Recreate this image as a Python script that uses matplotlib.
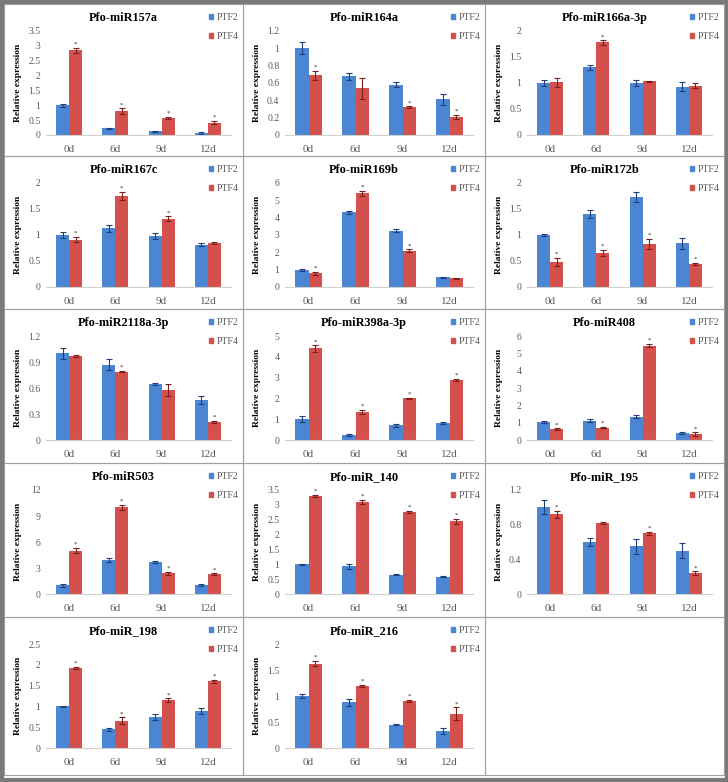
import matplotlib
matplotlib.use("Agg")
import matplotlib.pyplot as plt
import numpy as np
from matplotlib.patches import Rectangle, Patch

plt.rcParams['font.family'] = ['Liberation Serif', 'DejaVu Serif']

days = ['0d', '6d', '9d', '12d']

titles = ['Pfo-miR157a', 'Pfo-miR164a', 'Pfo-miR166a-3p',
          'Pfo-miR167c', 'Pfo-miR169b', 'Pfo-miR172b',
          'Pfo-miR2118a-3p', 'Pfo-miR398a-3p', 'Pfo-miR408',
          'Pfo-miR503', 'Pfo-miR_140', 'Pfo-miR_195',
          'Pfo-miR_198', 'Pfo-miR_216']

ptf2 = [[1.0, 0.22, 0.13, 0.07], [1.0, 0.68, 0.58, 0.41], [1.0, 1.30, 1.00, 0.93],
        [1.0, 1.13, 0.98, 0.81], [1.0, 4.30, 3.25, 0.55], [1.0, 1.40, 1.73, 0.84],
        [1.0, 0.87, 0.65, 0.46], [1.0, 0.22, 0.70, 0.82], [1.05, 1.12, 1.35, 0.40],
        [1.0, 3.90, 3.70, 1.00], [1.0, 0.93, 0.65, 0.58], [1.0, 0.60, 0.55, 0.50],
        [1.0, 0.45, 0.75, 0.88], [1.0, 0.88, 0.45, 0.32]]
ptf4 = [[2.85, 0.80, 0.57, 0.42], [0.69, 0.54, 0.32, 0.21], [1.01, 1.78, 1.03, 0.95],
        [0.91, 1.75, 1.31, 0.85], [0.78, 5.40, 2.10, 0.50], [0.48, 0.66, 0.83, 0.45],
        [0.97, 0.79, 0.58, 0.21], [4.40, 1.35, 2.00, 2.90], [0.62, 0.72, 5.45, 0.35],
        [5.00, 10.0, 2.40, 2.30], [3.30, 3.10, 2.77, 2.45], [0.92, 0.82, 0.70, 0.24],
        [1.92, 0.66, 1.15, 1.60], [1.62, 1.20, 0.90, 0.66]]
err2 = [[0.05, 0.03, 0.02, 0.02], [0.07, 0.04, 0.03, 0.06], [0.05, 0.05, 0.05, 0.08],
        [0.06, 0.07, 0.05, 0.03], [0.05, 0.08, 0.10, 0.05], [0.02, 0.08, 0.09, 0.10],
        [0.06, 0.06, 0.01, 0.05], [0.15, 0.05, 0.07, 0.03], [0.07, 0.07, 0.07, 0.04],
        [0.15, 0.20, 0.10, 0.10], [0.02, 0.08, 0.02, 0.02], [0.08, 0.05, 0.09, 0.09],
        [0.02, 0.03, 0.07, 0.07], [0.03, 0.07, 0.01, 0.06]]
err4 = [[0.08, 0.10, 0.04, 0.05], [0.05, 0.12, 0.01, 0.02], [0.08, 0.04, 0.01, 0.05],
        [0.05, 0.08, 0.05, 0.02], [0.10, 0.15, 0.08, 0.03], [0.08, 0.06, 0.10, 0.02],
        [0.01, 0.01, 0.07, 0.01], [0.15, 0.10, 0.03, 0.05], [0.05, 0.05, 0.08, 0.10],
        [0.30, 0.30, 0.15, 0.10], [0.03, 0.08, 0.03, 0.08], [0.04, 0.01, 0.02, 0.02],
        [0.03, 0.08, 0.04, 0.04], [0.05, 0.02, 0.02, 0.12]]
stars = [[1, 1, 1, 1], [1, 0, 1, 1], [0, 1, 0, 0],
         [1, 1, 1, 0], [1, 1, 1, 0], [1, 1, 1, 1],
         [0, 1, 0, 1], [1, 1, 1, 1], [1, 1, 1, 1],
         [1, 1, 1, 1], [1, 1, 1, 1], [1, 0, 1, 1],
         [1, 1, 1, 1], [1, 1, 1, 1]]
ymax = [3.5, 1.2, 2, 2, 6, 2, 1.2, 5, 6, 12, 3.5, 1.2, 2.5, 2]
ystep = [0.5, 0.2, 0.5, 0.5, 1, 0.5, 0.3, 1, 1, 3, 0.5, 0.4, 0.5, 0.5]

W, H = 728, 782
blue, red = '#4a86d4', '#d4504c'
blue_e, red_e = '#1e3f7a', '#7a1f1c'
grey = '#5a5a5a'

fig = plt.figure(figsize=(W / 100, H / 100), dpi=100)

col_edges = [4, 243, 485, 724]
row_edges = [4, 156, 309, 463, 617, 775]


def fx(px):
    return px / W


def fy(py):
    return 1 - py / H


# panel frames
for r in range(5):
    for c in range(3):
        x0, x1 = col_edges[c], col_edges[c + 1]
        y0, y1 = row_edges[r], row_edges[r + 1]
        fig.patches.append(Rectangle((fx(x0), fy(y1)), fx(x1 - x0), (y1 - y0) / H,
                                     transform=fig.transFigure, fill=False,
                                     edgecolor='#a0a0a0', linewidth=0.8))
fig.patches.append(Rectangle((fx(1.5), fy(779.5)), fx(725), 778 / H,
                             transform=fig.transFigure, fill=False,
                             edgecolor='#7a7a7a', linewidth=3))

x = np.arange(4)
bw = 0.28
for i, t in enumerate(titles):
    r, c = divmod(i, 3)
    px0, px1 = col_edges[c], col_edges[c + 1]
    py0 = row_edges[r]
    left, right = px0 + 42, px1 - 12
    top, bottom = py0 + 27, py0 + 131
    ax = fig.add_axes([fx(left), fy(bottom), fx(right - left), (bottom - top) / H])
    ax.bar(x - bw / 2, ptf2[i], bw, color=blue, yerr=err2[i],
           error_kw=dict(ecolor=blue_e, elinewidth=0.8, capsize=2, capthick=0.8))
    ax.bar(x + bw / 2, ptf4[i], bw, color=red, yerr=err4[i],
           error_kw=dict(ecolor=red_e, elinewidth=0.8, capsize=2, capthick=0.8))
    for j in range(4):
        if stars[i][j]:
            ax.text(x[j] + bw / 2, ptf4[i][j] + err4[i][j] + ymax[i] * 0.01, '*',
                    ha='center', va='bottom', fontsize=5, color='#333333')
    ax.set_xlim(-0.5, 3.5)
    ax.set_ylim(0, ymax[i])
    ticks = np.arange(0, ymax[i] + 1e-9, ystep[i])
    ax.set_yticks(ticks)
    ax.set_yticklabels(['%g' % v for v in ticks])
    ax.set_xticks(x)
    ax.set_xticklabels(days)
    ax.tick_params(length=0, colors=grey)
    ax.tick_params(axis='x', pad=7, labelsize=8)
    ax.tick_params(axis='y', pad=4, labelsize=7)
    for s in ['top', 'right', 'left']:
        ax.spines[s].set_visible(False)
    ax.spines['bottom'].set_color('#d0d0d0')
    ax.patch.set_alpha(0)
    fig.text(fx((px0 + px1) / 2), fy(py0 + 14), t, ha='center', va='center',
             fontsize=8.8, fontweight='bold')
    fig.text(fx(px0 + 14), fy((top + bottom) / 2), 'Relative expression',
             rotation=90, ha='center', va='center', fontsize=6.8, fontweight='bold')
    handles = [Patch(color=blue, label='PTF2'), Patch(color=red, label='PTF4')]
    leg = ax.legend(handles=handles, loc='upper left',
                    bbox_to_anchor=(fx(px1 - 34), fy(py0 + 9)),
                    bbox_transform=fig.transFigure, frameon=False, fontsize=7,
                    handlelength=0.45, handleheight=0.45, handletextpad=0.3,
                    labelspacing=1.0, borderpad=0, borderaxespad=0)
    for txt in leg.get_texts():
        txt.set_color(grey)

fig.savefig('out.png', dpi=100, facecolor='white')
